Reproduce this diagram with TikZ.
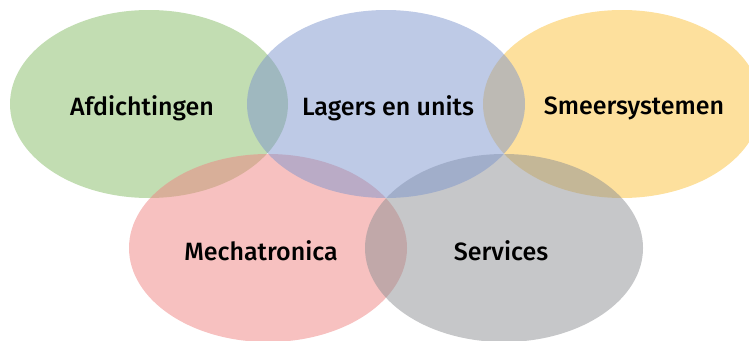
\documentclass[tikz,border=0pt]{standalone}
\usepackage{fontspec}
\setsansfont{Fira Sans}[BoldFont = {Fira Sans Medium}]
\usepackage{tikz}
\usetikzlibrary{shapes.geometric, positioning}

\definecolor{vgreen}{RGB}{133,187,101}
\definecolor{vblue}{RGB}{125,149,205}
\definecolor{vyellow}{RGB}{251,193,59}
\definecolor{vred}{RGB}{239,131,129}
\definecolor{vgray}{RGB}{141,143,147}

\tikzset{
  venn/.style = {ellipse, draw = none, fill opacity = 0.5,
                 minimum width = 278pt, minimum height = 188pt, inner sep = 0pt},
  venntext/.style = {font = \sffamily\bfseries\fontsize{25}{29}\selectfont, text = black}
}

\begin{document}
\begin{tikzpicture}[x=1pt, y=-1pt]
\useasboundingbox (0,0) rectangle (749,340);
\clip (0,0) rectangle (749,340);

% blue goes last, it lies over the others
\node[venn, fill = vgreen]  (afd) at (149,104) {};
\node[venn, fill = vyellow] (sme) at (622,104) {};
\node[venn, fill = vred]    (mec) at (268,248) {};
\node[venn, fill = vgray]   (ser) at (504,248) {};
\node[venn, fill = vblue]   (lag) at (386,104) {};

\node[venntext] (afdtext) at ([xshift=-7pt, yshift=-4pt]afd.center) {Afdichtingen};
\node[venntext] (lagtext) at ([xshift=2pt, yshift=-4pt]lag.center)  {Lagers en units};
\node[venntext] (smetext) at ([xshift=12pt, yshift=-4pt]sme.center) {Smeersystemen};
\node[venntext] (mectext) at ([xshift=-7pt, yshift=-3pt]mec.center) {Mechatronica};
\node[venntext] (sertext) at ([xshift=-3pt, yshift=-3pt]ser.center) {Services};
\end{tikzpicture}
\end{document}
